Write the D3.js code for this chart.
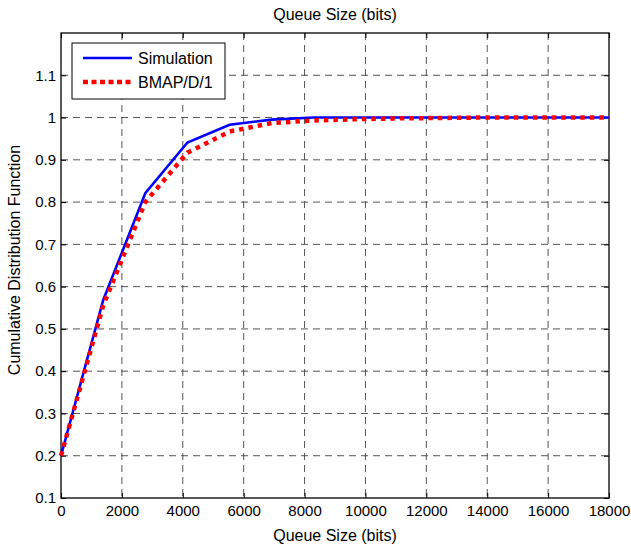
<!DOCTYPE html>
<html>
<head>
<meta charset="utf-8">
<script src="https://cdn.jsdelivr.net/npm/d3@7"></script>
<style>
  body { margin: 0; background: #fff; }
  svg { display: block; font-family: "Liberation Sans", Arial, sans-serif; }
</style>
</head>
<body>
<svg id="chart" width="631" height="550"></svg>
<script>
// Queue size samples (bits)
const queueSize = [0, 1385, 2769, 4154, 5538, 6923, 8308, 9692, 11077, 12462, 13846, 15231, 16615, 18000];
// CDF from simulation
const simulation = [0.2, 0.568, 0.821, 0.941, 0.983, 0.995, 1.0, 1.0, 1.0, 1.0, 1.0, 1.0, 1.0, 1.0];
// CDF from the BMAP/D/1 model
const bmap = [0.2, 0.555, 0.80, 0.917, 0.967, 0.987, 0.993, 0.996, 0.998, 0.999, 1.0, 1.0, 1.0, 1.0];

const xTicks = [0, 2000, 4000, 6000, 8000, 10000, 12000, 14000, 16000, 18000];
const yTicks = [0.1, 0.2, 0.3, 0.4, 0.5, 0.6, 0.7, 0.8, 0.9, 1, 1.1];
const seriesNames = ["Simulation", "BMAP/D/1"];

const svg = d3.select("#chart");
const m = { left: 61, right: 609, top: 33, bottom: 498 };

const x = d3.scaleLinear().domain([0, 18000]).range([m.left, m.right]);
const y = d3.scaleLinear().domain([0.1, 1.2]).range([m.bottom, m.top]);

// grid
const grid = svg.append("g").attr("stroke", "#222").attr("stroke-width", 0.9)
  .attr("stroke-dasharray", "7,5").attr("opacity", 0.85);
xTicks.slice(1, -1).forEach(t => {
  grid.append("line").attr("x1", x(t)).attr("x2", x(t)).attr("y1", m.top).attr("y2", m.bottom);
});
yTicks.slice(1).forEach(t => {
  grid.append("line").attr("x1", m.left).attr("x2", m.right).attr("y1", y(t)).attr("y2", y(t));
});

// axes with inward ticks
const fmtY = d => d3.format("")(+d.toFixed(1));
const axB = svg.append("g").attr("transform", `translate(0,${m.bottom})`)
  .call(d3.axisBottom(x).tickValues(xTicks).tickSize(-5).tickPadding(7).tickFormat(d3.format("d")));
const axT = svg.append("g").attr("transform", `translate(0,${m.top})`)
  .call(d3.axisTop(x).tickValues(xTicks).tickSize(-5).tickFormat(""));
const axL = svg.append("g").attr("transform", `translate(${m.left},0)`)
  .call(d3.axisLeft(y).tickValues(yTicks).tickSize(-5).tickPadding(5).tickFormat(fmtY));
const axR = svg.append("g").attr("transform", `translate(${m.right},0)`)
  .call(d3.axisRight(y).tickValues(yTicks).tickSize(-5).tickFormat(""));
[axB, axT, axL, axR].forEach(a => {
  a.select(".domain").remove();
  a.selectAll("line").attr("stroke", "#000");
  a.selectAll("text").attr("fill", "#000").style("font-size", "15px");
});

// frame
svg.append("rect").attr("x", m.left).attr("y", m.top)
  .attr("width", m.right - m.left).attr("height", m.bottom - m.top)
  .attr("fill", "none").attr("stroke", "#000").attr("stroke-width", 1.3);

// curves
const line = d3.line().x((d, i) => x(queueSize[i])).y(d => y(d));
svg.append("path").datum(simulation).attr("d", line)
  .attr("fill", "none").attr("stroke", "#0000ff").attr("stroke-width", 2.6);
svg.append("path").datum(bmap).attr("d", line)
  .attr("fill", "none").attr("stroke", "#ff0000").attr("stroke-width", 4.5)
  .attr("stroke-dasharray", "4.5,5");

// titles
svg.append("text").attr("x", (m.left + m.right) / 2).attr("y", 20)
  .attr("text-anchor", "middle").style("font-size", "16px").text("Queue Size (bits)");
svg.append("text").attr("x", (m.left + m.right) / 2).attr("y", 541)
  .attr("text-anchor", "middle").style("font-size", "16px").text("Queue Size (bits)");
svg.append("text").attr("transform", `translate(20,260) rotate(-90)`)
  .attr("text-anchor", "middle").style("font-size", "16px").text("Cumulative Distribution Function");

// legend
const lg = svg.append("g");
lg.append("rect").attr("x", 72).attr("y", 43).attr("width", 153).attr("height", 56)
  .attr("fill", "#fff").attr("stroke", "#000").attr("stroke-width", 1);
lg.append("line").attr("x1", 83).attr("x2", 132).attr("y1", 58).attr("y2", 58)
  .attr("stroke", "#0000ff").attr("stroke-width", 2.6);
lg.append("line").attr("x1", 83).attr("x2", 132).attr("y1", 82).attr("y2", 82)
  .attr("stroke", "#ff0000").attr("stroke-width", 4.5).attr("stroke-dasharray", "5,3.5");
lg.append("text").attr("x", 138).attr("y", 64).style("font-size", "16px").text(seriesNames[0]);
lg.append("text").attr("x", 138).attr("y", 88).style("font-size", "16px").text(seriesNames[1]);
</script>
</body>
</html>
